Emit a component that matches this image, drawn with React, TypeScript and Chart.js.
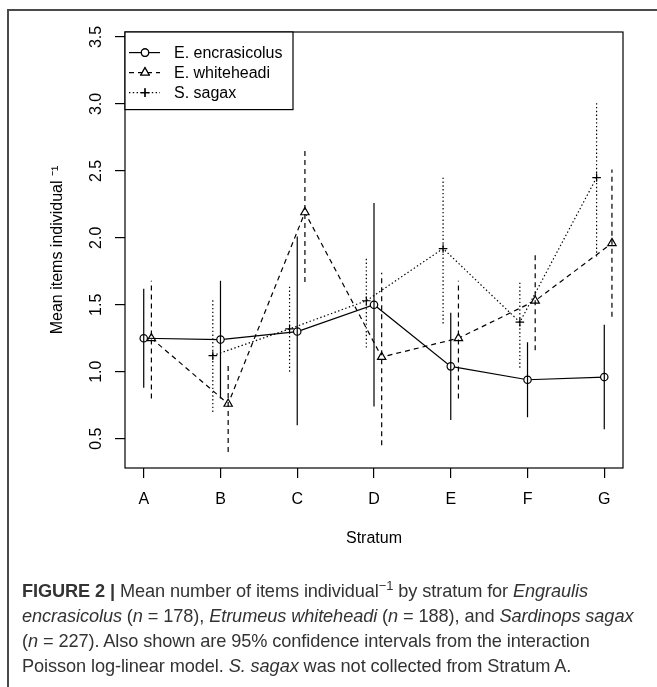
import React, { useEffect, useRef } from 'react';
import { Chart, registerables } from 'chart.js';
import { drawPoint } from 'chart.js/helpers';

Chart.register(...registerables);

// ---- data ----
const strata = ['A', 'B', 'C', 'D', 'E', 'F', 'G'];
const yTicks = [0.5, 1.0, 1.5, 2.0, 2.5, 3.0, 3.5];

const encMean = [1.25, 1.24, 1.30, 1.50, 1.04, 0.94, 0.96];
const encLo = [0.88, 0.80, 0.60, 0.74, 0.64, 0.66, 0.57];
const encHi = [1.62, 1.68, 2.01, 2.26, 1.44, 1.22, 1.35];

const whiMean = [1.25, 0.76, 2.19, 1.11, 1.25, 1.53, 1.96];
const whiLo = [0.80, 0.40, 1.67, 0.45, 0.80, 1.16, 1.41];
const whiHi = [1.68, 1.07, 2.66, 1.74, 1.68, 1.88, 2.51];

const sagMean = [null, 1.12, 1.32, 1.53, 1.92, 1.37, 2.45];
const sagLo = [null, 0.70, 1.00, 1.18, 1.36, 1.03, 1.86];
const sagHi = [null, 1.54, 1.64, 1.85, 2.46, 1.68, 3.02];

const seriesLabels = ['E. encrasicolus', 'E. whiteheadi', 'S. sagax'];

// ---- styles ----
const FONT = '"Liberation Sans", Arial, Helvetica, sans-serif';
const seriesStyles = [
  { off: 0, pointStyle: 'circle', radius: 3.7, dash: [] as number[] },
  { off: 0.1, pointStyle: 'triangle', radius: 4.8, dash: [5, 4] },
  { off: -0.1, pointStyle: 'cross', radius: 4.3, dash: [1.4, 2.4] },
];
const LW = 1.2;

const seriesData = [
  { mean: encMean, lo: encLo, hi: encHi },
  { mean: whiMean, lo: whiLo, hi: whiHi },
  { mean: sagMean, lo: sagLo, hi: sagHi },
];

const boxAndLegend = {
  id: 'boxAndLegend',
  afterDraw(chart: any) {
    const { ctx, chartArea } = chart;
    const { left, top, right, bottom } = chartArea;
    ctx.save();
    ctx.strokeStyle = '#000';
    ctx.lineWidth = LW;
    ctx.setLineDash([]);
    ctx.strokeRect(left, top, right - left, bottom - top);

    // legend box
    const bw = 168;
    const bh = 77.6;
    ctx.fillStyle = '#fff';
    ctx.fillRect(left, top, bw, bh);
    ctx.strokeRect(left, top, bw, bh);
    ctx.font = `16px ${FONT}`;
    ctx.textBaseline = 'middle';
    ctx.textAlign = 'left';
    seriesLabels.forEach((lab, i) => {
      const y = top + 20.6 + i * 20;
      const st = seriesStyles[i];
      ctx.strokeStyle = '#000';
      ctx.lineWidth = LW;
      ctx.setLineDash(st.dash);
      ctx.beginPath();
      ctx.moveTo(left + 4, y);
      ctx.lineTo(left + 35, y);
      ctx.stroke();
      ctx.setLineDash([]);
      ctx.fillStyle = '#fff';
      drawPoint(ctx, { pointStyle: st.pointStyle, radius: st.radius, borderWidth: LW, rotation: 0 } as any, left + 20, y);
      ctx.fill();
      ctx.stroke();
      ctx.fillStyle = '#000';
      ctx.fillText(lab, left + 49, y + 1);
    });
    ctx.restore();
  },
};

export default function App() {
  const canvasRef = useRef<HTMLCanvasElement | null>(null);

  useEffect(() => {
    if (!canvasRef.current) return;

    const errorSets = seriesData.map((s, k) => ({
      type: 'line' as const,
      label: seriesLabels[k] + ' CI',
      data: strata.flatMap((_, i) =>
        s.lo[i] == null
          ? []
          : [
              { x: i + 1 + seriesStyles[k].off, y: s.lo[i] },
              { x: i + 1 + seriesStyles[k].off, y: s.hi[i] },
              { x: i + 1 + seriesStyles[k].off, y: null },
            ]
      ),
      borderColor: '#000',
      borderWidth: LW,
      borderDash: seriesStyles[k].dash,
      pointRadius: 0,
      spanGaps: false,
      fill: false,
    }));

    const mainSets = seriesData.map((s, k) => ({
      type: 'line' as const,
      label: seriesLabels[k],
      data: strata.flatMap((_, i) =>
        s.mean[i] == null ? [] : [{ x: i + 1 + seriesStyles[k].off, y: s.mean[i] }]
      ),
      borderColor: '#000',
      borderWidth: LW,
      borderDash: seriesStyles[k].dash,
      pointStyle: seriesStyles[k].pointStyle,
      pointRadius: seriesStyles[k].radius,
      pointBorderColor: '#000',
      pointBackgroundColor: '#fff',
      pointBorderWidth: LW,
      tension: 0,
      fill: false,
    }));

    const chart = new Chart(canvasRef.current, {
      type: 'line',
      data: { datasets: [...errorSets, ...mainSets] as any },
      options: {
        animation: false,
        responsive: false,
        devicePixelRatio: 1,
        layout: { padding: { top: 32, right: 34, left: 0, bottom: 0 } },
        plugins: { legend: { display: false }, tooltip: { enabled: false } },
        scales: {
          x: {
            type: 'linear',
            min: 0.756,
            max: 7.244,
            afterBuildTicks: (scale: any) => {
              scale.ticks = strata.map((_, i) => ({ value: i + 1 }));
            },
            afterFit: (scale: any) => {
              scale.height = 92;
            },
            ticks: {
              callback: (v: any) => strata[Math.round(v) - 1] ?? '',
              font: { family: FONT, size: 16 },
              color: '#000',
              padding: 12,
              maxRotation: 0,
              autoSkip: false,
            },
            grid: {
              drawOnChartArea: false,
              drawTicks: true,
              tickLength: 10,
              color: '#000',
              lineWidth: LW,
            },
            border: { display: false },
            title: {
              display: true,
              text: 'Stratum',
              font: { family: FONT, size: 16 },
              color: '#000',
              padding: { top: 0, bottom: 12 },
            },
          },
          y: {
            type: 'linear',
            min: 0.281,
            max: 3.537,
            afterBuildTicks: (scale: any) => {
              scale.ticks = yTicks.map((v) => ({ value: v }));
            },
            afterFit: (scale: any) => {
              scale.width = 125;
            },
            ticks: {
              callback: (v: any) => Number(v).toFixed(1),
              font: { family: FONT, size: 16 },
              color: '#000',
              padding: 7,
              minRotation: 90,
              maxRotation: 90,
              crossAlign: 'center',
              autoSkip: false,
            },
            grid: {
              drawOnChartArea: false,
              drawTicks: true,
              tickLength: 10,
              color: '#000',
              lineWidth: LW,
            },
            border: { display: false },
            title: {
              display: true,
              text: 'Mean items individual ⁻¹',
              font: { family: FONT, size: 16 },
              color: '#000',
              padding: { top: 48, bottom: 0 },
            },
          },
        },
      },
      plugins: [boxAndLegend],
    });

    return () => chart.destroy();
  }, []);

  return (
    <div
      style={{
        position: 'absolute',
        left: 0,
        top: 0,
        width: 657,
        height: 687,
        background: '#fff',
        overflow: 'hidden',
      }}
    >
      <canvas
        ref={canvasRef}
        width={657}
        height={560}
        style={{ position: 'absolute', left: 0, top: 0, width: 657, height: 560 }}
      />
      <div
        style={{
          position: 'absolute',
          left: 7,
          top: 9,
          right: -2,
          bottom: -2,
          borderTop: '2px solid #4a4a4a',
          borderLeft: '2px solid #4a4a4a',
          pointerEvents: 'none',
        }}
      />
      <div
        style={{
          position: 'absolute',
          left: 22,
          top: 579,
          fontFamily: FONT,
          fontSize: 18.2,
          lineHeight: '25px',
          color: '#333',
          whiteSpace: 'nowrap',
          letterSpacing: '-0.1px',
        }}
      >
        <b>FIGURE 2 |</b> Mean number of items individual<sup style={{ fontSize: 13, lineHeight: 0 }}>−1</sup> by stratum for <i>Engraulis</i>
        <br />
        <i>encrasicolus</i> (<i>n</i> = 178), <i>Etrumeus whiteheadi</i> (<i>n</i> = 188), and <i>Sardinops sagax</i>
        <br />
        (<i>n</i> = 227). Also shown are 95% confidence intervals from the interaction
        <br />
        Poisson log-linear model. <i>S. sagax</i> was not collected from Stratum A.
      </div>
    </div>
  );
}
